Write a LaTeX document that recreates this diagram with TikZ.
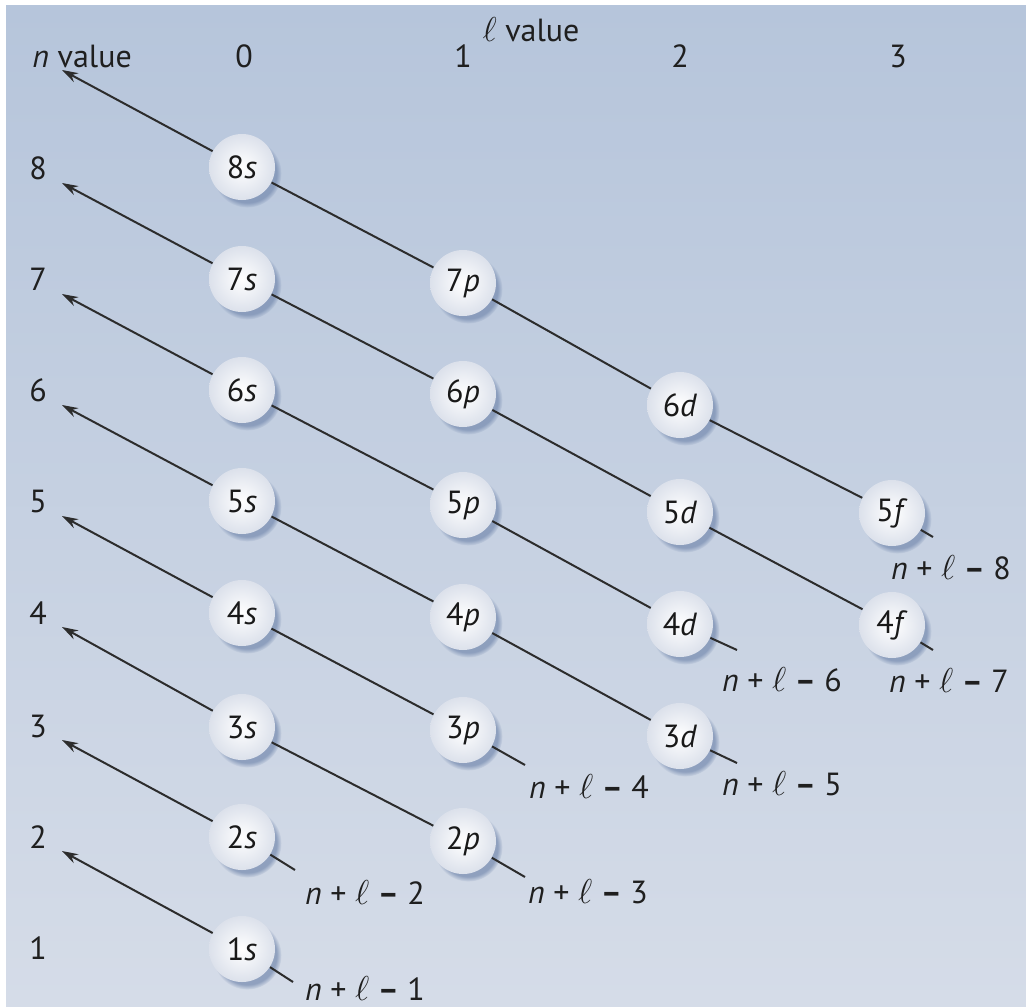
\documentclass[tikz,border=0pt]{standalone}
\usepackage{fontspec}
\setmainfont{PT Sans}
\usetikzlibrary{arrows.meta,shadows}
\definecolor{bgtop}{HTML}{B6C5DB}
\definecolor{bgbot}{HTML}{D5DCE8}
\definecolor{orbrim}{HTML}{DCE1EB}
\definecolor{orbshade}{HTML}{7489AE}
\definecolor{wire}{HTML}{2C2C2C}
\tikzset{
  orb/.style={circle, minimum size=33pt, inner sep=0pt, inner color=white, outer color=orbrim,
    circular drop shadow={shadow xshift=2.5pt, shadow yshift=-3pt, shadow scale=1.04, fill=orbshade, opacity=0.7},
    font=\fontsize{16}{18}\selectfont, text=black!90},
  wire/.style={draw=wire, line width=1pt},
  toarrow/.style={wire, -{Stealth[length=8pt,width=5pt]}},
  lbl/.style={font=\fontsize{16}{19}\selectfont, text=black!88, inner sep=0pt}
}
\begin{document}
\begin{tikzpicture}[x=0.5pt,y=-0.5pt]
    \useasboundingbox (0,0) rectangle (1026,1006);
    \shade[top color=bgtop, bottom color=bgbot] (6,6) rectangle (1026,1006);
    % headings
    \node[lbl, anchor=west] (nhead) at (32,56) {\textit{n} value};
    \node[lbl] (lhead) at (531,30) {$\ell$ value};
    \node[lbl] (l0) at (244,56) {0};
    \node[lbl] (l1) at (463,56) {1};
    \node[lbl] (l2) at (680,56) {2};
    \node[lbl] (l3) at (898,56) {3};
    \node[lbl] (n8) at (38,168) {8};
    \node[lbl] (n7) at (38,279) {7};
    \node[lbl] (n6) at (38,390) {6};
    \node[lbl] (n5) at (38,501) {5};
    \node[lbl] (n4) at (38,613) {4};
    \node[lbl] (n3) at (38,726) {3};
    \node[lbl] (n2) at (38,837) {2};
    \node[lbl] (n1) at (38,948) {1};
    % orbitals
    \node[orb] (s8) at (242,167) {8\textit{s}};
    \node[orb] (s7) at (242,279) {7\textit{s}};
    \node[orb] (s6) at (242,390) {6\textit{s}};
    \node[orb] (s5) at (242,501) {5\textit{s}};
    \node[orb] (s4) at (242,613) {4\textit{s}};
    \node[orb] (s3) at (242,727) {3\textit{s}};
    \node[orb] (s2) at (242,837) {2\textit{s}};
    \node[orb] (s1) at (242,949) {1\textit{s}};
    \node[orb] (p7) at (463,283) {7\textit{p}};
    \node[orb] (p6) at (463,394) {6\textit{p}};
    \node[orb] (p5) at (463,505) {5\textit{p}};
    \node[orb] (p4) at (463,617) {4\textit{p}};
    \node[orb] (p3) at (463,730) {3\textit{p}};
    \node[orb] (p2) at (463,841) {2\textit{p}};
    \node[orb] (d6) at (680,405) {6\textit{d}};
    \node[orb] (d5) at (680,512) {5\textit{d}};
    \node[orb] (d4) at (680,624) {4\textit{d}};
    \node[orb] (d3) at (680,736) {3\textit{d}};
    \node[orb] (f5) at (892,513) {5\textit{f}};
    \node[orb] (f4) at (892,625) {4\textit{f}};
    % arrow tips and line ends
    \coordinate (t9) at (62,70);
    \coordinate (t8) at (62,183);
    \coordinate (t7) at (62,294);
    \coordinate (t6) at (62,405);
    \coordinate (t5) at (62,516);
    \coordinate (t4) at (62,627);
    \coordinate (t3) at (62,740);
    \coordinate (t2) at (62,851);
    \coordinate (e1) at (293,982);
    \coordinate (e2) at (295,870);
    \coordinate (e3) at (525,877);
    \coordinate (e4) at (525,765);
    \coordinate (e5) at (737,763);
    \coordinate (e6) at (737,650);
    \coordinate (e7) at (933,650);
    \coordinate (e8) at (933,537);
    % n + l lines
    \draw[toarrow] (s8) -- (t9);
    \draw[toarrow] (s7) -- (t8);
    \draw[toarrow] (s6) -- (t7);
    \draw[toarrow] (s5) -- (t6);
    \draw[toarrow] (s4) -- (t5);
    \draw[toarrow] (s3) -- (t4);
    \draw[toarrow] (s2) -- (t3);
    \draw[toarrow] (s1) -- (t2);
    \draw[wire] (s1) -- (e1);
    \draw[wire] (s2) -- (e2);
    \draw[wire] (s3) -- (p2) -- (e3);
    \draw[wire] (s4) -- (p3) -- (e4);
    \draw[wire] (s5) -- (p4) -- (d3) -- (e5);
    \draw[wire] (s6) -- (p5) -- (d4) -- (e6);
    \draw[wire] (s7) -- (p6) -- (d5) -- (f4) -- (e7);
    \draw[wire] (s8) -- (p7) -- (d6) -- (f5) -- (e8);
    % sums
    \node[lbl] (k1) at (365,988) {\textit{n} + $\ell$ \textbf{--} 1};
    \node[lbl] (k2) at (365,892) {\textit{n} + $\ell$ \textbf{--} 2};
    \node[lbl] (k3) at (588,892) {\textit{n} + $\ell$ \textbf{--} 3};
    \node[lbl] (k4) at (589,786) {\textit{n} + $\ell$ \textbf{--} 4};
    \node[lbl] (k5) at (782,784) {\textit{n} + $\ell$ \textbf{--} 5};
    \node[lbl] (k6) at (782,680) {\textit{n} + $\ell$ \textbf{--} 6};
    \node[lbl] (k7) at (949,680) {\textit{n} + $\ell$ \textbf{--} 7};
    \node[lbl] (k8) at (951,568) {\textit{n} + $\ell$ \textbf{--} 8};
\end{tikzpicture}
\end{document}
